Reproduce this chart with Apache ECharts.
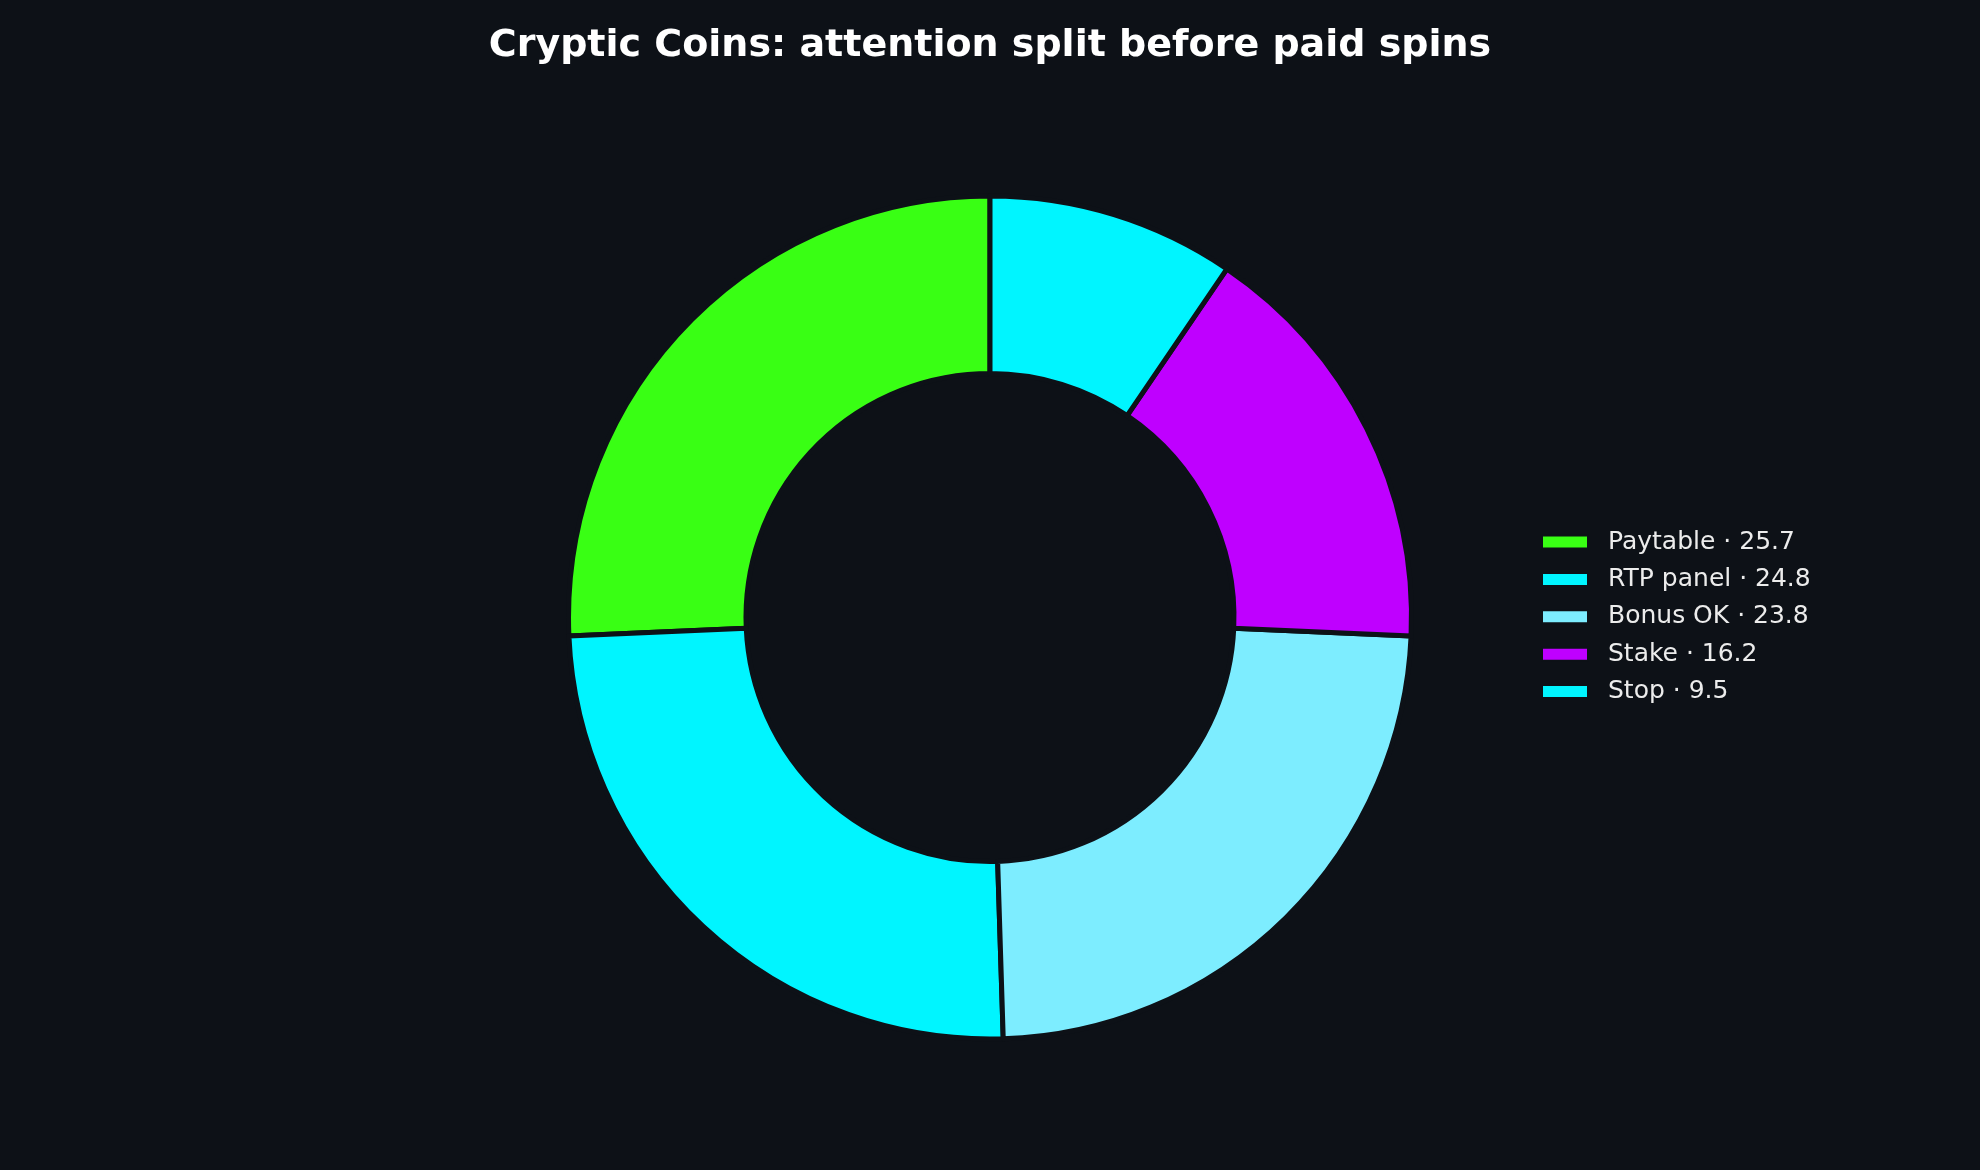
<!DOCTYPE html>
<html>
<head>
<meta charset="utf-8">
<script src="https://cdn.jsdelivr.net/npm/echarts@6/dist/echarts.min.js"></script>
<style>
html,body{margin:0;padding:0;background:#0d1117;}
#chart{width:1980px;height:1170px;}
</style>
</head>
<body>
<div id="chart"></div>
<script>
const categories = ['Paytable', 'RTP panel', 'Bonus OK', 'Stake', 'Stop'];
const values = [25.7, 24.8, 23.8, 16.2, 9.5];
const colors = ['#39ff14', '#00f5ff', '#7dedff', '#bf00ff', '#00f5ff'];
const titleText = 'Cryptic Coins: attention split before paid spins';

const data = categories.map((c, i) => ({ name: c, value: values[i], itemStyle: { color: colors[i] } }));

const chart = echarts.init(document.getElementById('chart'), null, { renderer: 'canvas' });
chart.setOption({
  backgroundColor: '#0d1117',
  animation: false,
  title: {
    text: titleText,
    left: 'center',
    top: 22,
    textStyle: { color: '#ffffff', fontSize: 38, fontWeight: 'bold', fontFamily: 'DejaVu Sans' }
  },
  legend: {
    orient: 'vertical',
    left: 1541,
    top: 529.5,
    padding: 0,
    itemWidth: 46,
    itemHeight: 13,
    itemGap: 12.4,
    icon: 'rect',
    formatter: function (name) {
      const i = categories.indexOf(name);
      return name + ' · ' + values[i];
    },
    textStyle: { color: '#ececec', fontSize: 25, fontFamily: 'DejaVu Sans', padding: [0, 0, 0, 15] },
    data: categories
  },
  series: [{
    type: 'pie',
    center: [990, 617.5],
    radius: [244, 421.5],
    startAngle: 90,
    clockwise: false,
    label: { show: false },
    labelLine: { show: false },
    emphasis: { disabled: true },
    itemStyle: { borderColor: '#0d1117', borderWidth: 5 },
    data: data
  }]
});
</script>
</body>
</html>
